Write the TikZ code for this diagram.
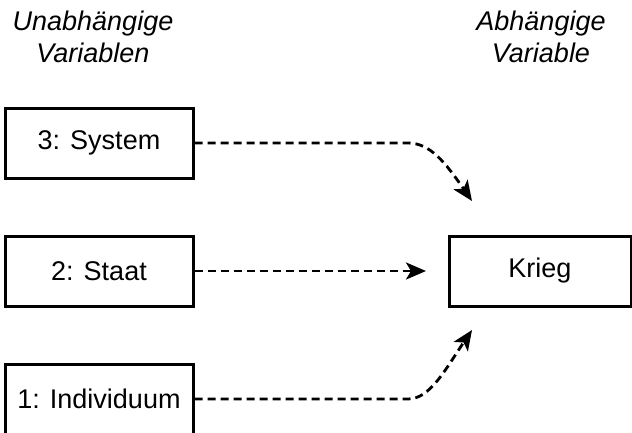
\documentclass[tikz,border=0pt]{standalone}
\usepackage{fontspec}
\setmainfont{Liberation Sans}
\usetikzlibrary{arrows.meta}
\begin{document}
\begin{tikzpicture}[x=1pt,y=-1pt,
  varbox/.style={draw,line width=3pt,minimum width=188pt,minimum height=70pt,inner sep=0pt,font=\fontsize{27}{31}\selectfont},
  header/.style={align=center,font=\fontsize{27}{31.5}\selectfont\itshape},
  link/.style={line width=2.8pt,dash pattern=on 8pt off 5pt,-{Stealth[length=20pt,width=17pt,inset=5pt]}}]
\useasboundingbox (0,0) rectangle (632,432);
\node[header] (hu) at (93,37) {Unabhängige\\Variablen};
\node[header] (ha) at (541,37) {Abhängige\\Variable};
\node[varbox] (sys) at (99,143) {3: System};
\node[varbox] (sta) at (99,271) {2: Staat};
\node[varbox] (ind) at (99,399) {1: Individuum};
\node[varbox,minimum width=182pt] (krieg) at (540,271) {Krieg};
\coordinate (t3) at (472,201);
\coordinate (t1) at (472,330);
\draw[link] (sys.east) -- (408,143) .. controls (430,143) and (445,162) .. (t3);
\draw[link] (sta.east) -- (426,271);
\draw[link] (ind.east) -- (408,399) .. controls (430,399) and (445,370) .. (t1);
\end{tikzpicture}
\end{document}
